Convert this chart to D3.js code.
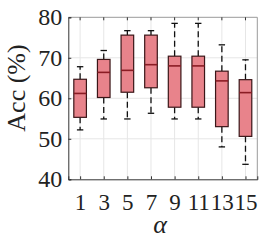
<!DOCTYPE html>
<html>
<head>
<meta charset="utf-8">
<script src="https://cdn.jsdelivr.net/npm/d3@7"></script>
<style>
  body { margin: 0; background: #fff; }
  text { font-family: "Liberation Serif", "DejaVu Serif", serif; fill: #222; }
</style>
</head>
<body>
<script>
const w = 264;
const h = 240;

const categories = ["1", "3", "5", "7", "9", "11", "13", "15"];
const whiskerLow = [52.2, 54.9, 54.9, 56.3, 54.9, 54.9, 48.0, 43.7];
const q1 = [55.3, 60.2, 61.5, 62.6, 57.8, 57.8, 53.0, 50.6];
const median = [61.2, 66.4, 66.9, 68.3, 68.0, 68.0, 64.3, 61.4];
const q3 = [64.7, 69.6, 75.6, 75.6, 70.4, 70.4, 66.7, 64.6];
const whiskerHigh = [67.8, 71.8, 76.7, 76.7, 78.5, 78.5, 73.2, 69.5];
const yTicks = [40, 50, 60, 70, 80];

const data = categories.map((c, i) => ({
  cat: c,
  lo: whiskerLow[i],
  q1: q1[i],
  med: median[i],
  q3: q3[i],
  hi: whiskerHigh[i]
}));

const pLeft = 68.3, pRight = 257.3, pTop = 17.3, pBottom = 179.3;

const svg = d3.select("body").append("svg")
  .attr("width", w)
  .attr("height", h);

const x = d3.scalePoint()
  .domain(categories)
  .range([pLeft, pRight])
  .padding(0.5);

const y = d3.scaleLinear()
  .domain([40, 80])
  .range([pBottom, pTop]);

// grid
svg.append("g")
  .selectAll("line")
  .data(yTicks.slice(1, -1))
  .enter().append("line")
  .attr("x1", pLeft).attr("x2", pRight)
  .attr("y1", d => y(d)).attr("y2", d => y(d))
  .attr("stroke", "#e6e6e6").attr("stroke-width", 1);

svg.append("g")
  .selectAll("line")
  .data(categories)
  .enter().append("line")
  .attr("x1", d => x(d)).attr("x2", d => x(d))
  .attr("y1", pTop).attr("y2", pBottom)
  .attr("stroke", "#e6e6e6").attr("stroke-width", 1);

// frame top/right
svg.append("path")
  .attr("d", `M${pLeft},${pTop}H${pRight}V${pBottom}`)
  .attr("fill", "none")
  .attr("stroke", "#9a9a9a")
  .attr("stroke-width", 1);

// axes
const xAxis = d3.axisBottom(x).tickSize(-3).tickPadding(14);
const yAxis = d3.axisLeft(y).tickValues(yTicks).tickSize(-3).tickPadding(6);

const gx = svg.append("g")
  .attr("transform", `translate(0,${pBottom})`)
  .call(xAxis);
gx.select(".domain").attr("stroke", "#333");
gx.selectAll(".tick line").attr("stroke", "#333");
gx.selectAll(".tick text")
  .attr("font-size", 23)
  .attr("font-family", "Liberation Serif")
  .attr("fill", "#222");

const gy = svg.append("g")
  .attr("transform", `translate(${pLeft},0)`)
  .call(yAxis);
gy.select(".domain").attr("stroke", "#333");
gy.selectAll(".tick line").attr("stroke", "#333");
gy.selectAll(".tick text")
  .attr("font-size", 24)
  .attr("font-family", "Liberation Serif")
  .attr("fill", "#222");

// top ticks
svg.append("g")
  .selectAll("line")
  .data(categories)
  .enter().append("line")
  .attr("x1", d => x(d)).attr("x2", d => x(d))
  .attr("y1", pTop).attr("y2", pTop + 3)
  .attr("stroke", "#333");

const half = 6.3;
const capHalf = 3.2;

const boxes = svg.append("g")
  .selectAll("g")
  .data(data)
  .enter().append("g");

// whiskers
boxes.append("line")
  .attr("x1", d => x(d.cat)).attr("x2", d => x(d.cat))
  .attr("y1", d => y(d.q3)).attr("y2", d => y(d.hi))
  .attr("stroke", "#111").attr("stroke-width", 1.3)
  .attr("stroke-dasharray", "6,3.5");
boxes.append("line")
  .attr("x1", d => x(d.cat)).attr("x2", d => x(d.cat))
  .attr("y1", d => y(d.q1)).attr("y2", d => y(d.lo))
  .attr("stroke", "#111").attr("stroke-width", 1.3)
  .attr("stroke-dasharray", "6,3.5");
boxes.append("line")
  .attr("x1", d => x(d.cat) - capHalf).attr("x2", d => x(d.cat) + capHalf)
  .attr("y1", d => y(d.hi)).attr("y2", d => y(d.hi))
  .attr("stroke", "#111").attr("stroke-width", 1.3);
boxes.append("line")
  .attr("x1", d => x(d.cat) - capHalf).attr("x2", d => x(d.cat) + capHalf)
  .attr("y1", d => y(d.lo)).attr("y2", d => y(d.lo))
  .attr("stroke", "#111").attr("stroke-width", 1.3);

boxes.append("rect")
  .attr("x", d => x(d.cat) - half)
  .attr("y", d => y(d.q3))
  .attr("width", half * 2)
  .attr("height", d => y(d.q1) - y(d.q3))
  .attr("fill", "#e8838b")
  .attr("stroke", "#3a1618")
  .attr("stroke-width", 1.2);

boxes.append("line")
  .attr("x1", d => x(d.cat) - half).attr("x2", d => x(d.cat) + half)
  .attr("y1", d => y(d.med)).attr("y2", d => y(d.med))
  .attr("stroke", "#8a1c24").attr("stroke-width", 1.6);

// labels
svg.append("text")
  .attr("transform", `translate(25,88) rotate(-90)`)
  .attr("text-anchor", "middle")
  .attr("font-size", 26)
  .text("Acc (%)");

svg.append("text")
  .attr("x", 160)
  .attr("y", 233)
  .attr("text-anchor", "middle")
  .attr("font-size", 26)
  .attr("font-style", "italic")
  .text("α");
</script>
</body>
</html>
